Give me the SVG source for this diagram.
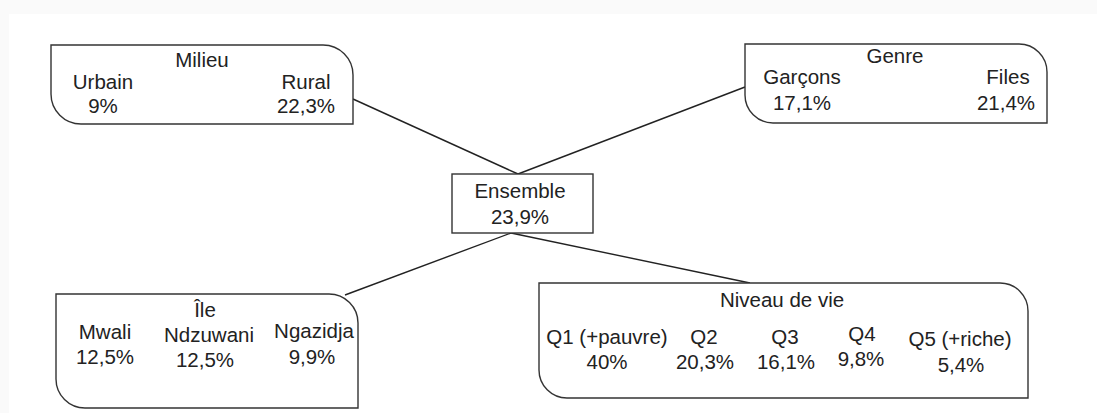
<svg xmlns="http://www.w3.org/2000/svg" width="1097" height="413" viewBox="0 0 1097 413">
<style>
.box{fill:#fff;stroke:#333;stroke-width:1.4}
.ln{stroke:#222;stroke-width:1.4;fill:none}
text{font-family:"Liberation Sans",Arial,sans-serif;font-size:20.5px;fill:#222;text-anchor:middle}
</style>
<rect x="0" y="0" width="1097" height="413" fill="#fafafa"/>
<rect x="9" y="14" width="1088" height="399" fill="#fff"/>
<g id="connectors">
<line class="ln" x1="353" y1="99" x2="518" y2="174"/>
<line class="ln" x1="745" y1="87" x2="518" y2="174"/>
<line class="ln" x1="511" y1="233" x2="345" y2="295"/>
<line class="ln" x1="511" y1="233" x2="750" y2="283"/>
</g>
<g id="milieu">
<path class="box" d="M51,45 H323 A30,30 0 0 1 353,75 V124 H81 A30,30 0 0 1 51,94 Z"/>
<text x="202" y="67">Milieu</text>
<text x="103" y="89">Urbain</text>
<text x="103" y="113">9%</text>
<text x="306" y="89">Rural</text>
<text x="306" y="113">22,3%</text>
</g>
<g id="genre">
<path class="box" d="M745,44 H1019 A28,28 0 0 1 1047,72 V123 H773 A28,28 0 0 1 745,95 Z"/>
<text x="895" y="63">Genre</text>
<text x="802" y="84">Garçons</text>
<text x="802" y="110">17,1%</text>
<text x="1008" y="84">Files</text>
<text x="1006" y="110">21,4%</text>
</g>
<g id="ensemble">
<rect class="box" x="452" y="174" width="141" height="59"/>
<text x="520" y="198">Ensemble</text>
<text x="520" y="224">23,9%</text>
</g>
<g id="ile">
<path class="box" d="M56,294 H329 A29,29 0 0 1 358,323 V408 H85 A29,29 0 0 1 56,379 Z"/>
<text x="205" y="317">Île</text>
<text x="105" y="339">Mwali</text>
<text x="105" y="364">12,5%</text>
<text x="209" y="342">Ndzuwani</text>
<text x="205" y="367">12,5%</text>
<text x="314" y="338">Ngazidja</text>
<text x="312" y="364">9,9%</text>
</g>
<g id="niveau">
<path class="box" d="M539,283 H1000 A28,28 0 0 1 1028,311 V398 H567 A28,28 0 0 1 539,370 Z"/>
<text x="782" y="307">Niveau de vie</text>
<text x="607" y="344">Q1 (+pauvre)</text>
<text x="607" y="369">40%</text>
<text x="704" y="344">Q2</text>
<text x="705" y="369">20,3%</text>
<text x="785" y="344">Q3</text>
<text x="786" y="369">16,1%</text>
<text x="862" y="341">Q4</text>
<text x="861" y="366">9,8%</text>
<text x="960" y="346">Q5 (+riche)</text>
<text x="961" y="372">5,4%</text>
</g>
</svg>
